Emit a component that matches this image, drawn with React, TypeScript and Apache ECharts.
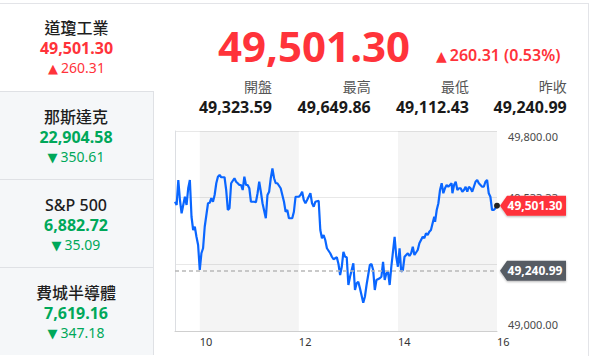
import React, { useEffect, useRef } from "react";
import * as echarts from "echarts";

// ---- data ----
const minutes = [0,2,4,6,8,10,12,14,16,18,20,22,24,26,28,30,32,34,36,38,40,42,44,46,48,50,52,54,56,60,62,64,66,68,72,74,76,78,80,82,84,86,88,90,92,96,98,100,102,104,106,110,112,114,116,118,120,122,124,128,132,134,136,138,142,144,146,150,152,154,156,158,160,164,166,168,170,174,176,178,180,182,184,188,190,192,196,198,200,202,204,206,208,210,212,216,218,220,222,224,228,230,232,236,238,240,242,244,248,250,252,254,256,258,260,262,266,268,270,272,274,276,278,282,284,286,288,290,294,296,298,300,302,304,306,308,310,312,314,315,317,319,321,323,325,327,329,331,333,335,336,338,340,342,344,346,348,350,352,354,356,358,360,362,364,366,368,370,372,374,376,378,380,382,384,386,388,390];
const prices = [49517,49504,49604,49524,49471,49504,49537,49504,49571,49604,49457,49404,49417,49377,49344,49244,49311,49331,49417,49464,49511,49513,49531,49517,49544,49591,49617,49624,49615,49615,49564,49484,49491,49591,49611,49597,49591,49584,49584,49564,49617,49584,49584,49571,49517,49517,49515,49551,49597,49557,49511,49451,49544,49557,49611,49650,49611,49591,49591,49571,49517,49477,49484,49451,49451,49477,49537,49537,49544,49557,49524,49511,49524,49551,49511,49497,49517,49521,49404,49371,49384,49364,49331,49311,49297,49287,49295,49268,49224,49257,49317,49297,49295,49184,49217,49271,49164,49191,49197,49171,49113,49137,49184,49264,49268,49244,49164,49204,49211,49217,49277,49204,49231,49237,49184,49257,49377,49297,49257,49331,49237,49244,49297,49311,49300,49311,49337,49304,49324,49351,49364,49377,49371,49391,49384,49397,49404,49431,49457,49437,49484,49511,49564,49591,49551,49571,49584,49577,49584,49591,49551,49584,49597,49564,49571,49571,49557,49564,49577,49557,49577,49571,49557,49577,49597,49604,49591,49584,49577,49577,49597,49604,49551,49537,49484,49484,49491,49501.30];
const lastPrice = 49501.30;
const prevClose = 49240.99;
const yTicks = [49000, 49000 + 800 / 3, 49000 + 1600 / 3, 49800];
const shadedBands = [[30, 150], [270, 390]];

const mainTitle = "49,501.30";
const mainChange = "260.31 (0.53%)";
const statLabels = ["開盤", "最高", "最低", "昨收"];
const statValues = ["49,323.59", "49,649.86", "49,112.43", "49,240.99"];

const cardNames = ["道瓊工業", "那斯達克", "S&P 500", "費城半導體"];
const cardValues = ["49,501.30", "22,904.58", "6,882.72", "7,619.16"];
const cardChanges = ["260.31", "350.61", "35.09", "347.18"];
const cardUp = [true, false, false, false];

const RED = "#ff333a";
const GREEN = "#00a85a";
const FONT = '"Noto Sans", "Noto Sans CJK TC", sans-serif';

const fmt = (v: number) =>
  v.toLocaleString("en-US", { minimumFractionDigits: 2, maximumFractionDigits: 2 });

function Tri({ up, size }: { up: boolean; size: number }) {
  return (
    <span
      style={{
        fontFamily: '"DejaVu Sans", sans-serif',
        fontSize: size,
        lineHeight: 1,
        display: "inline-block",
        marginRight: 3,
      }}
    >
      {up ? "▲" : "▼"}
    </span>
  );
}

export default function App() {
  const ref = useRef<HTMLDivElement>(null);

  useEffect(() => {
    document.body.style.margin = "0";
    const chart = echarts.init(ref.current!, null, { renderer: "svg" });
    const data = minutes.map((m, i) => [m, prices[i]]);
    chart.setOption({
      animation: false,
      textStyle: { fontFamily: FONT },
      grid: { left: 175, right: 93, top: 131, bottom: 25 },
      xAxis: {
        type: "value",
        min: 0,
        max: 390,
        interval: 30,
        axisLine: { show: true, lineStyle: { color: "#cfcfcf", width: 1 } },
        axisTick: { show: false },
        splitLine: { show: false },
        axisLabel: {
          align: "left",
          margin: 5,
          color: "#333",
          fontSize: 11,
          showMaxLabel: true,
          formatter: (v: number) => {
            const h = 9.5 + v / 60;
            return Number.isInteger(h) && h % 2 === 0 ? String(h) : "";
          },
        },
      },
      yAxis: {
        type: "value",
        position: "right",
        min: 49000,
        max: 49800,
        axisLine: { show: true, lineStyle: { color: "#dcdee2" } },
        axisTick: { show: false, customValues: yTicks },
        splitLine: { show: true, lineStyle: { color: "#e8e8e8" } },
        axisLabel: {
          customValues: yTicks,
          margin: 11,
          color: "#4a4a4a",
          fontSize: 11,
          formatter: (v: number) => {
            const s = fmt(v);
            if (v >= 49799) return `{t|${s}}`;
            if (v <= 49001) return `{b|${s}}`;
            return `{m|${s}}`;
          },
          rich: {
            t: { padding: [10, 0, 0, 0], fontSize: 11, color: "#4a4a4a", fontFamily: FONT },
            b: { padding: [0, 0, 14, 0], fontSize: 11, color: "#4a4a4a", fontFamily: FONT },
            m: { fontSize: 11, color: "#4a4a4a", fontFamily: FONT },
          },
        },
      },
      series: [
        {
          type: "line",
          data,
          symbol: "none",
          lineStyle: { color: "#0a66ff", width: 2.2 },
          markArea: {
            silent: true,
            itemStyle: { color: "rgba(0,0,0,0.045)" },
            data: shadedBands.map(([a, b]) => [{ xAxis: a }, { xAxis: b }]),
          },
          markLine: {
            silent: true,
            symbol: "none",
            label: { show: false },
            lineStyle: { color: "#b8b8b8", type: [4, 3], width: 1.5 },
            data: [{ yAxis: prevClose }],
          },
          markPoint: {
            silent: true,
            data: [
              {
                coord: [390, prevClose],
                symbol: "path://M0,10L7,0L66,0L66,20L7,20Z",
                symbolSize: [66, 20],
                symbolKeepAspect: false,
                symbolOffset: [36, 0],
                itemStyle: { color: "#565c63", shadowBlur: 2, shadowColor: "rgba(0,0,0,0.3)", shadowOffsetY: 1 },
                label: { show: true, position: "inside", offset: [2, 0], formatter: fmt(prevClose), color: "#fff", fontSize: 12, fontWeight: "bold", fontFamily: FONT },
              },
              {
                coord: [390, lastPrice],
                symbol: "path://M0,10L7,0L66,0L66,20L7,20Z",
                symbolSize: [66, 20],
                symbolKeepAspect: false,
                symbolOffset: [36, 0],
                itemStyle: { color: RED, shadowBlur: 2, shadowColor: "rgba(0,0,0,0.3)", shadowOffsetY: 1 },
                label: { show: true, position: "inside", offset: [2, 0], formatter: fmt(lastPrice), color: "#fff", fontSize: 12, fontWeight: "bold", fontFamily: FONT },
              },
              {
                coord: [390, lastPrice],
                symbol: "circle",
                symbolSize: 6,
                itemStyle: { color: "#222" },
                label: { show: false },
              },
            ],
          },
        },
      ],
    });
    return () => chart.dispose();
  }, []);

  const statRights = [272, 370.7, 469, 566.7];

  return (
    <div style={{ position: "relative", width: 590, height: 356, overflow: "hidden", background: "#fff", fontFamily: FONT }}>
      <div ref={ref} style={{ position: "absolute", left: 0, top: 0, width: 590, height: 356 }} />
      {/* outer border */}
      <div style={{ position: "absolute", left: -1, top: 3, width: 588, height: 400, border: "1px solid #e3e4e8", pointerEvents: "none" }} />
      {/* cards */}
      {cardNames.map((name, i) => {
        const top = i === 0 ? 3 : 91 + (i - 1) * 88;
        const sel = i === 0;
        const col = cardUp[i] ? RED : GREEN;
        return (
          <div
            key={name}
            style={{
              position: "absolute",
              left: -1,
              top,
              width: 155,
              height: 88,
              background: sel ? "transparent" : "#f5f7f9",
              borderTop: sel ? "none" : "1px solid #dfe1e5",
              borderRight: sel ? "none" : "1px solid #dfe1e5",
              boxSizing: "border-box",
              textAlign: "center",
            }}
          >
            <div style={{ position: "absolute", left: 0, right: 0, top: 16, lineHeight: "18px", fontSize: 16, fontWeight: 500, color: "#1e1e1e" }}>{name}</div>
            <div style={{ position: "absolute", left: 0, right: 0, top: 36, lineHeight: "18px", fontSize: 16, fontWeight: 700, color: col }}>{cardValues[i]}</div>
            <div style={{ position: "absolute", left: 0, right: 0, top: 56, lineHeight: "18px", fontSize: 14, color: col }}>
              <Tri up={cardUp[i]} size={13} />
              {cardChanges[i]}
            </div>
          </div>
        );
      })}
      {/* header */}
      <div style={{ position: "absolute", right: 180, top: 18, lineHeight: "56px", fontSize: 42, fontWeight: 700, color: RED, whiteSpace: "nowrap" }}>{mainTitle}</div>
      <div style={{ position: "absolute", left: 436, top: 45, lineHeight: "20px", fontSize: 16, fontWeight: 600, color: RED, whiteSpace: "nowrap" }}>
        <Tri up={true} size={14} />
        {mainChange}
      </div>
      {statLabels.map((l, i) => (
        <div key={l} style={{ position: "absolute", right: 590 - statRights[i], top: 78, lineHeight: "18px", fontSize: 14, color: "#555", whiteSpace: "nowrap" }}>{l}</div>
      ))}
      {statValues.map((v, i) => (
        <div key={v + i} style={{ position: "absolute", right: 590 - statRights[i], top: 98, lineHeight: "18px", fontSize: 16, fontWeight: 700, color: "#1a1a1a", whiteSpace: "nowrap" }}>{v}</div>
      ))}
    </div>
  );
}
